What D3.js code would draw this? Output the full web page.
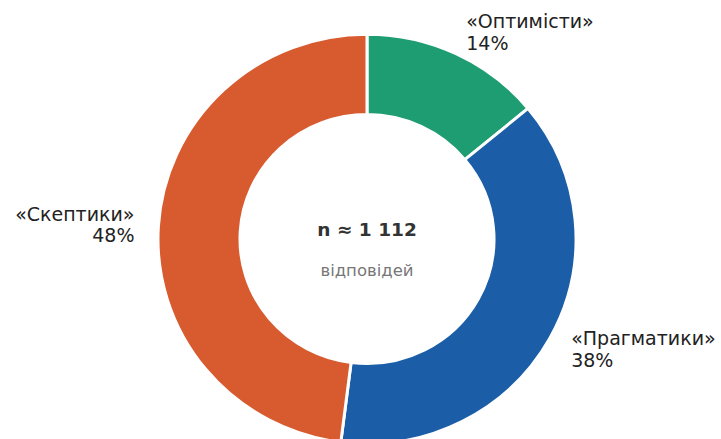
<!DOCTYPE html>
<html>
<head>
<meta charset="utf-8">
<script src="https://cdn.jsdelivr.net/npm/d3@7"></script>
<style>
  html, body { margin: 0; padding: 0; background: #fff; }
  svg { display: block; }
  text { font-family: "DejaVu Sans", sans-serif; }
</style>
</head>
<body>
<svg id="chart" width="721" height="439"></svg>
<script>
// Share of respondents by attitude group (percent)
const categories = ["«Оптимісти»", "«Прагматики»", "«Скептики»"];
const shares = [14, 38, 48];
const colors = ["#1e9c72", "#1b5ea7", "#d85b30"];
const totalLabel = "n ≈ 1 112";
const subLabel = "відповідей";

const width = 721, height = 439;
const cx = 367, cy = 239;
const outerR = 209, innerR = 127;
const squash = 0.98;          // slight vertical compression of the ring
const labelR = 233;

const svg = d3.select("#chart");
const g = svg.append("g").attr("transform", `translate(${cx},${cy})`);
const ring = g.append("g").attr("transform", `scale(1,${squash})`);

const data = categories.map((c, i) => ({ name: c, value: shares[i], color: colors[i] }));

const pie = d3.pie().sort(null).value(d => d.value);
const arc = d3.arc().innerRadius(innerR).outerRadius(outerR);
const arcs = pie(data);

ring.selectAll("path.slice")
  .data(arcs)
  .join("path")
  .attr("class", "slice")
  .attr("d", arc)
  .attr("fill", d => d.data.color)
  .attr("stroke", "#fff")
  .attr("stroke-width", 3)
  .attr("stroke-linejoin", "miter");

// Outside labels: name and percent, anchored just beyond the outer radius
const fontSize = 19, lineGap = 21.5;
arcs.forEach(d => {
  const a = (d.startAngle + d.endAngle) / 2;
  const x = labelR * Math.sin(a);
  const y = -labelR * squash * Math.cos(a);
  const anchor = x >= 0 ? "start" : "end";
  const t = g.append("text")
    .attr("text-anchor", anchor)
    .attr("font-size", fontSize)
    .attr("fill", "#222");
  t.append("tspan").attr("x", x).attr("y", y - lineGap / 2).attr("dy", "0.36em").text(d.data.name);
  t.append("tspan").attr("x", x).attr("y", y + lineGap / 2).attr("dy", "0.36em").text(d.data.value + "%");
});

// Centre annotation
g.append("text")
  .attr("text-anchor", "middle")
  .attr("y", -3)
  .attr("font-size", 18.5)
  .attr("font-weight", "bold")
  .attr("fill", "#333")
  .text(totalLabel);
g.append("text")
  .attr("text-anchor", "middle")
  .attr("y", 37)
  .attr("font-size", 16.5)
  .attr("fill", "#777")
  .text(subLabel);
</script>
</body>
</html>
